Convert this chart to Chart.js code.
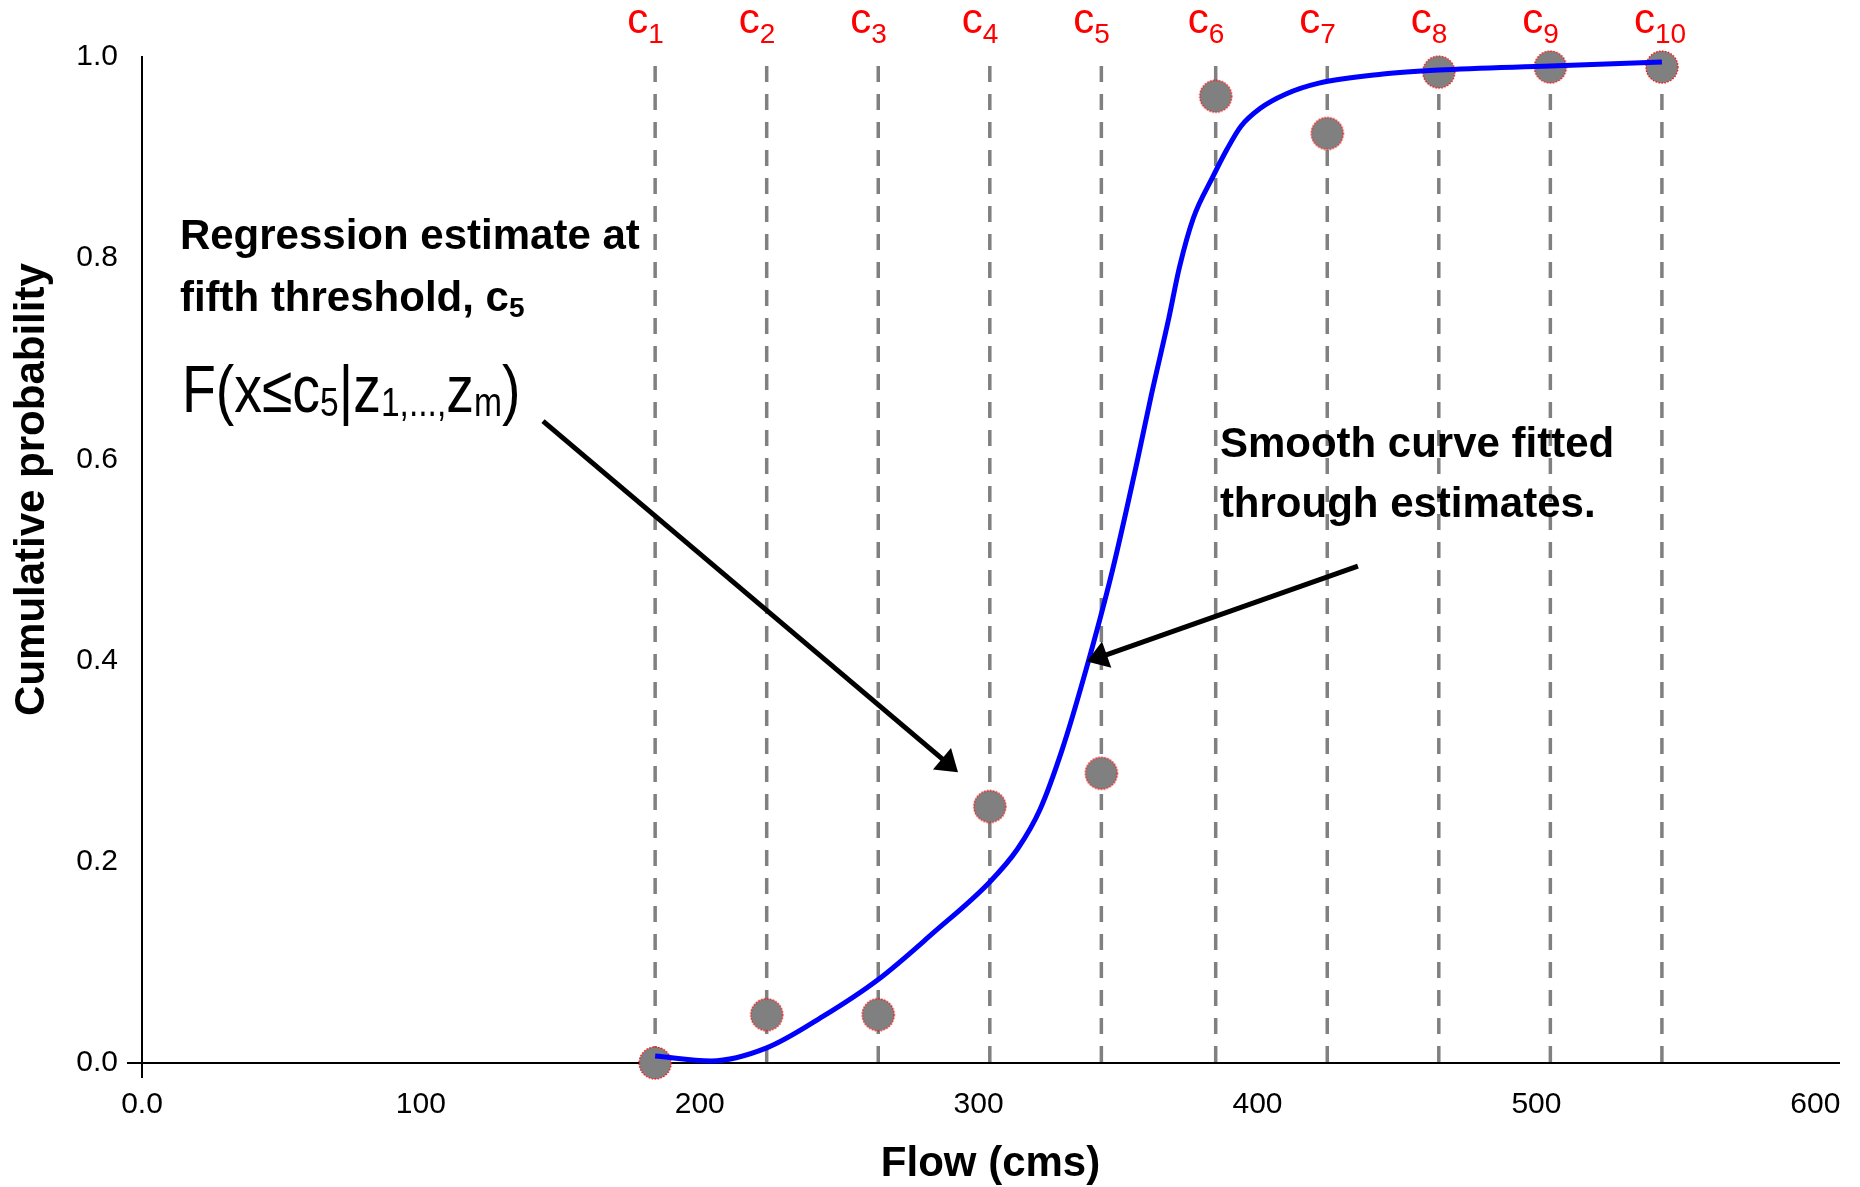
<!DOCTYPE html>
<html>
<head>
<meta charset="utf-8">
<script src="https://cdn.jsdelivr.net/npm/chart.js@4.4.1/dist/chart.umd.min.js"></script>
<style>
  html, body { margin: 0; padding: 0; background: #fff; }
  canvas { display: block; }
</style>
</head>
<body>
<canvas id="cdfChart" width="1860" height="1187"></canvas>
<script>
// thresholds c1..c10 (flow, cms) and regression estimates of F(x <= c)
const thresholds = [184, 224, 264, 304, 344, 385, 425, 465, 505, 545];
const thresholdSubs = ['1', '2', '3', '4', '5', '6', '7', '8', '9', '10'];
const estimates = [0.0, 0.048, 0.048, 0.255, 0.288, 0.961, 0.924, 0.985, 0.990, 0.990];

// smooth curve through the estimates
const curveX = [184, 204, 224, 244, 264, 284, 304, 314, 322, 330, 338, 348, 357, 362, 368, 372, 377, 384, 389, 394, 401, 410, 422, 445, 465, 505, 545];
const curveY = [0.007, 0.002, 0.015, 0.046, 0.083, 0.130, 0.180, 0.213, 0.252, 0.312, 0.386, 0.490, 0.600, 0.665, 0.738, 0.791, 0.840, 0.881, 0.908, 0.931, 0.949, 0.963, 0.974, 0.983, 0.987, 0.991, 0.995];

const xTicks = [0, 100, 200, 300, 400, 500, 600];
const xTickLabels = ['0.0', '100', '200', '300', '400', '500', '600'];
const yTicks = [0, 0.2, 0.4, 0.6, 0.8, 1.0];
const yTickLabels = ['0.0', '0.2', '0.4', '0.6', '0.8', '1.0'];

// arrows: [fromX, fromY, toX, toY] in data units
const arrows = [
  [143.8, 0.638, 292.6, 0.289],
  [436, 0.494, 338.8, 0.399]
];

const FONT = '"Liberation Sans", Arial, sans-serif';

function drawRuns(ctx, x, y, runs, color, scaleX) {
  ctx.save();
  ctx.translate(x, y);
  ctx.scale(scaleX || 1, 1);
  ctx.fillStyle = color;
  ctx.textAlign = 'left';
  ctx.textBaseline = 'alphabetic';
  let cx = 0;
  runs.forEach(([txt, font, dy]) => {
    ctx.font = font;
    ctx.fillText(txt, cx, dy);
    cx += ctx.measureText(txt).width;
  });
  ctx.restore();
}

function drawArrow(ctx, x1, y1, x2, y2) {
  const ang = Math.atan2(y2 - y1, x2 - x1);
  const head = 21, half = 14;
  ctx.save();
  ctx.strokeStyle = '#000';
  ctx.fillStyle = '#000';
  ctx.lineWidth = 5;
  ctx.beginPath();
  ctx.moveTo(x1, y1);
  ctx.lineTo(x2 - Math.cos(ang) * head * 0.8, y2 - Math.sin(ang) * head * 0.8);
  ctx.stroke();
  ctx.translate(x2, y2);
  ctx.rotate(ang);
  ctx.beginPath();
  ctx.moveTo(0, 0);
  ctx.lineTo(-head, -half);
  ctx.lineTo(-head, half);
  ctx.closePath();
  ctx.fill();
  ctx.restore();
}

// grey marker with a dotted red rim
function makeMarker(r) {
  const cv = document.createElement('canvas');
  const s = 2 * r + 4;
  cv.width = cv.height = s;
  const g = cv.getContext('2d');
  g.beginPath();
  g.arc(s / 2, s / 2, r, 0, 2 * Math.PI);
  g.fillStyle = '#808080';
  g.fill();
  g.setLineDash([1.5, 1.5]);
  g.strokeStyle = '#ff0000';
  g.lineWidth = 1.3;
  g.stroke();
  return cv;
}

const annotations = {
  id: 'annotations',
  afterDraw(chart) {
    const ctx = chart.ctx;
    const xs = chart.scales.x, ys = chart.scales.y;
    const area = chart.chartArea;
    const px = v => xs.getPixelForValue(v);
    const py = v => ys.getPixelForValue(v);

    // threshold names above the dashed lines
    thresholds.forEach((c, i) => {
      drawRuns(ctx, px(c) - 28, area.top - 24, [
        ['c', '42px ' + FONT, 0],
        [thresholdSubs[i], '28px ' + FONT, 10]
      ], '#ff0000');
    });

    // y axis title
    ctx.save();
    ctx.translate(32, area.top + (area.bottom - area.top) * 0.43);
    ctx.rotate(-Math.PI / 2);
    ctx.font = 'bold 42px ' + FONT;
    ctx.fillStyle = '#000';
    ctx.textAlign = 'center';
    ctx.textBaseline = 'middle';
    ctx.fillText('Cumulative probability', 0, 0);
    ctx.restore();

    const bold = 'bold 42px ' + FONT;
    drawRuns(ctx, px(13.6), py(0.809), [['Regression estimate at', bold, 0]], '#000');
    drawRuns(ctx, px(13.6), py(0.748), [
      ['fifth threshold, c', bold, 0],
      ['5', 'bold 28px ' + FONT, 6]
    ], '#000');

    const big = '66px ' + FONT, small = '40px ' + FONT;
    drawRuns(ctx, px(14.3), py(0.647), [
      ['F(x≤c', big, 0], ['5', small, 4], ['|z', big, 0],
      ['1,...,', small, 4], ['z', big, 0], ['m', small, 4], [')', big, 0]
    ], '#000', 0.84);

    drawRuns(ctx, px(386.5), py(0.602), [['Smooth curve fitted', bold, 0]], '#000');
    drawRuns(ctx, px(386.5), py(0.543), [['through estimates.', bold, 0]], '#000');

    arrows.forEach(a => drawArrow(ctx, px(a[0]), py(a[1]), px(a[2]), py(a[3])));
  }
};

const dashDatasets = thresholds.map(c => ({
  data: [{ x: c, y: 1 }, { x: c, y: 0 }],
  showLine: true,
  borderColor: '#808080',
  borderWidth: 3.5,
  borderDash: [16, 12],
  borderDashOffset: 19,
  pointRadius: 0,
  order: 3
}));

new Chart(document.getElementById('cdfChart'), {
  type: 'scatter',
  data: {
    datasets: [
      {
        data: curveX.map((x, i) => ({ x: x, y: curveY[i] })),
        showLine: true,
        borderColor: '#0000ff',
        borderWidth: 5,
        pointRadius: 0,
        cubicInterpolationMode: 'monotone',
        clip: false,
        order: 0
      },
      {
        data: thresholds.map((c, i) => ({ x: c, y: estimates[i] })),
        pointStyle: makeMarker(16),
        pointRadius: 16,
        pointHoverRadius: 16,
        clip: false,
        order: 1
      },
      ...dashDatasets
    ]
  },
  options: {
    responsive: false,
    animation: false,
    layout: { padding: { top: 57, right: 21, left: 0, bottom: 0 } },
    plugins: {
      legend: { display: false },
      tooltip: { enabled: false }
    },
    scales: {
      x: {
        type: 'linear',
        min: 0,
        max: 608.5,
        afterBuildTicks: s => { s.ticks = xTicks.map(v => ({ value: v })); },
        afterFit: s => { s.height = 124; },
        ticks: {
          callback: (v, i) => xTickLabels[i],
          font: { family: FONT, size: 30 },
          color: '#000',
          padding: 9,
          maxRotation: 0
        },
        grid: {
          drawOnChartArea: false,
          tickLength: 15,
          lineWidth: 2,
          color: c => (c.tick && c.tick.value === 0 ? '#000' : 'rgba(0,0,0,0)')
        },
        border: { color: '#000', width: 2 },
        title: {
          display: true,
          text: 'Flow (cms)',
          color: '#000',
          font: { family: FONT, size: 42, weight: 'bold' },
          padding: { top: 0, bottom: -3 }
        }
      },
      y: {
        min: 0,
        max: 1,
        afterBuildTicks: s => { s.ticks = yTicks.map(v => ({ value: v })); },
        afterFit: s => { s.width = 142; },
        ticks: {
          callback: (v, i) => yTickLabels[i],
          font: { family: FONT, size: 30 },
          color: '#000',
          padding: 9
        },
        grid: {
          drawOnChartArea: false,
          tickLength: 15,
          lineWidth: 2,
          color: c => (c.tick && c.tick.value === 0 ? '#000' : 'rgba(0,0,0,0)')
        },
        border: { color: '#000', width: 2 }
      }
    }
  },
  plugins: [annotations]
});
</script>
</body>
</html>
